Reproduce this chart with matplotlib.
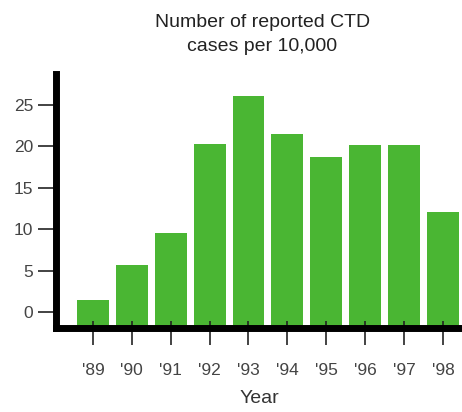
import matplotlib
matplotlib.use("Agg")
import matplotlib.pyplot as plt

plt.rcParams['font.family'] = ['Liberation Sans', 'DejaVu Sans']

# data
years = ["'89", "'90", "'91", "'92", "'93", "'94", "'95", "'96", "'97", "'98"]
cases = [1.4, 5.7, 9.5, 20.3, 26.1, 21.5, 18.7, 20.1, 20.1, 12.1]
y_ticks = [0, 5, 10, 15, 20, 25]

green = "#4ab633"
grey = "#444444"

fig = plt.figure(figsize=(4.62, 4.12), dpi=100)
ax = fig.add_axes([0.1212, 0.2039, 0.8788, 0.6165])

ymin, ymax = -1.93, 28.7
x = range(len(years))
ax.bar(x, [c - ymin for c in cases], bottom=ymin, width=0.82, color=green, zorder=1)

ax.set_xlim(-0.95, 9.49)
ax.set_ylim(ymin, ymax)

ax.set_xticks(list(x))
ax.set_xticklabels(years)
ax.set_xticks(list(x), minor=True)
ax.xaxis.remove_overlapping_locs = False
ax.set_yticks(y_ticks)

for s in ["top", "right"]:
    ax.spines[s].set_visible(False)
for s in ["left", "bottom"]:
    ax.spines[s].set_linewidth(5)
    ax.spines[s].set_color("black")
    ax.spines[s].set_zorder(3)
    ax.spines[s].set_capstyle("projecting")

ax.tick_params(axis="x", which="major", direction="out", length=12, width=1.2,
               color="#222222", labelsize=12.5, labelcolor=grey, pad=13)
ax.tick_params(axis="x", which="minor", direction="in", length=5, width=1.2,
               color="#222222")
ax.tick_params(axis="y", direction="out", length=13, width=1.2, color="#222222",
               labelsize=12.5, labelcolor=grey, pad=3.5)

ax.set_xlabel("Year", fontsize=14, color="#333333", labelpad=9)
fig.text(0.568, 0.966, "Number of reported CTD\ncases per 10,000", ha="center", va="top",
         fontsize=14, color="#222222", linespacing=1.5)

fig.savefig("out.png", dpi=100)
